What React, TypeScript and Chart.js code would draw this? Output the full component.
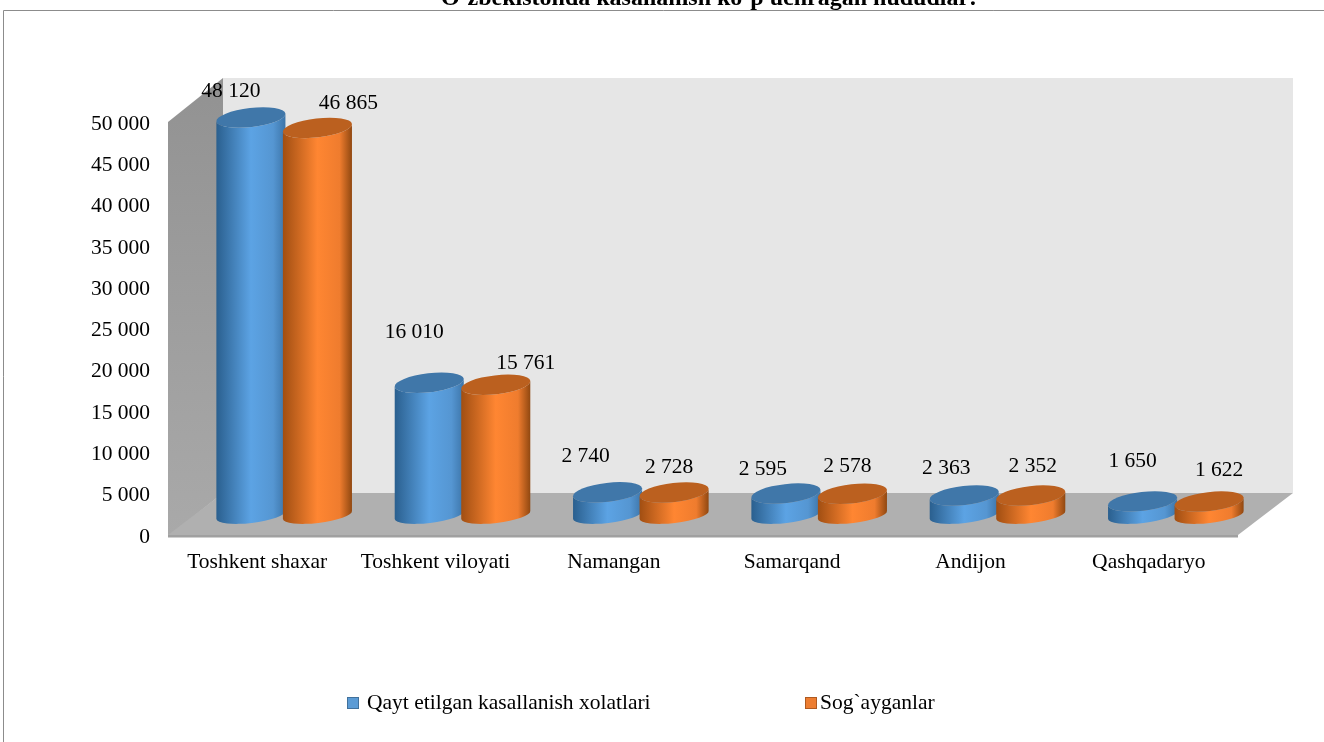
import React, { useEffect, useRef } from "react";
import { Chart, registerables } from "chart.js";

Chart.register(...registerables);

const categories = ["Toshkent shaxar", "Toshkent viloyati", "Namangan", "Samarqand", "Andijon", "Qashqadaryo"];
const relapsed = [48120, 16010, 2740, 2595, 2363, 1650];
const recovered = [46865, 15761, 2728, 2578, 2352, 1622];
const seriesNames = ["Qayt etilgan kasallanish xolatlari", "Sog`ayganlar"];
const chartTitle = "O`zbekistonda kasallanish ko`p uchragan hududlar:";

const FONT = '"Liberation Serif", "Times New Roman", serif';
const FONT_SIZE = 21.5;
const DEPTH_X = 55;
const DEPTH_Y = 42;
const TILT = -0.115;
const CAP_RY = 9.5;
const BASE_RY = 8;

const palettes = [
  { edgeL: "#2a5f8e", mid: "#5ca3e4", midR: "#5596d2", edgeR: "#3c74a8", cap: "#4077a9", legend: "#5b9bd5", legendEdge: "#41719c" },
  { edgeL: "#a04e12", mid: "#ff8632", midR: "#ef7c2e", edgeR: "#8f4710", cap: "#bb601f", legend: "#ed7d31", legendEdge: "#ae5a21" },
];

// Manually placed data labels in the original: nudges from each bar's top, per series.
const labelNudges = [
  [[-20, -25], [-15, -49], [-22, -35], [-23, -23], [-18, -26], [-10, -39]],
  [[31, -24], [30, -20], [-5, -24], [-5, -26], [2, -28], [10, -30]],
];

const fmt = (v: number) => String(v).replace(/\B(?=(\d{3})+$)/g, " ");

const sceneryPlugin = {
  id: "scenery",
  beforeDatasetsDraw(chart: any) {
    const { ctx, chartArea: a } = chart;
    ctx.save();
    // Back wall
    ctx.fillStyle = "#e6e6e6";
    ctx.fillRect(a.left + DEPTH_X, a.top - DEPTH_Y - 2, a.right - a.left, a.bottom - a.top + 2);
    // Side wall
    const wall = ctx.createLinearGradient(0, a.top - DEPTH_Y, 0, a.bottom);
    wall.addColorStop(0, "#929292");
    wall.addColorStop(1, "#a9a9a9");
    ctx.fillStyle = wall;
    ctx.beginPath();
    ctx.moveTo(a.left, a.top);
    ctx.lineTo(a.left + DEPTH_X, a.top - DEPTH_Y - 2);
    ctx.lineTo(a.left + DEPTH_X, a.bottom - DEPTH_Y);
    ctx.lineTo(a.left, a.bottom + 2);
    ctx.closePath();
    ctx.fill();
    // Floor
    ctx.fillStyle = "#b0b0b0";
    ctx.beginPath();
    ctx.moveTo(a.left, a.bottom);
    ctx.lineTo(a.left + DEPTH_X, a.bottom - DEPTH_Y);
    ctx.lineTo(a.right + DEPTH_X, a.bottom - DEPTH_Y);
    ctx.lineTo(a.right, a.bottom);
    ctx.closePath();
    ctx.fill();
    // Front edge of the floor
    ctx.fillStyle = "#a0a0a0";
    ctx.fillRect(a.left, a.bottom, a.right - a.left, 2.5);
    ctx.restore();
  },
  afterDatasetsDraw(chart: any) {
    const { ctx } = chart;
    ctx.save();
    const offX = DEPTH_X / 2 - 0.5;
    const offY = -DEPTH_Y / 2 + 1;
    // Cylinders, group by group
    categories.forEach((_, i) => {
      chart.data.datasets.forEach((_ds: any, d: number) => {
        const bar = chart.getDatasetMeta(d).data[i];
        const p = palettes[d];
        const cx = bar.x + offX;
        const top = bar.y + offY;
        const base = bar.base + offY;
        const rx = bar.width / 2 + 1.5;
        const g = ctx.createLinearGradient(cx - rx, 0, cx + rx, 0);
        g.addColorStop(0, p.edgeL);
        g.addColorStop(0.5, p.mid);
        g.addColorStop(0.82, p.midR);
        g.addColorStop(1, p.edgeR);
        ctx.fillStyle = g;
        ctx.beginPath();
        ctx.ellipse(cx, top, rx, CAP_RY, TILT, Math.PI, 0, true);
        ctx.ellipse(cx, base, rx, BASE_RY, TILT, 0, Math.PI, false);
        ctx.closePath();
        ctx.fill();
        ctx.fillStyle = p.cap;
        ctx.beginPath();
        ctx.ellipse(cx, top, rx, CAP_RY, TILT, 0, Math.PI * 2);
        ctx.fill();
      });
    });
    // Data labels
    ctx.fillStyle = "#000";
    ctx.font = `${FONT_SIZE}px ${FONT}`;
    ctx.textAlign = "center";
    ctx.textBaseline = "middle";
    chart.data.datasets.forEach((ds: any, d: number) => {
      chart.getDatasetMeta(d).data.forEach((bar: any, i: number) => {
        const [nx, ny] = labelNudges[d][i];
        ctx.fillText(fmt(ds.data[i]), bar.x + offX + nx, bar.y - DEPTH_Y / 2 + ny);
      });
    });
    // Title, clipped by the top of the page as in the original
    ctx.textBaseline = "alphabetic";
    ctx.font = `bold 24px ${FONT}`;
    ctx.fillText(chartTitle, 709, 5);
    // Outer frame
    ctx.strokeStyle = "#8c8c8c";
    ctx.lineWidth = 1;
    ctx.beginPath();
    ctx.moveTo(3.5, 742);
    ctx.lineTo(3.5, 10.5);
    ctx.lineTo(1324, 10.5);
    ctx.stroke();
    // Legend
    ctx.font = `${FONT_SIZE}px ${FONT}`;
    ctx.textAlign = "left";
    const legendX = [347, 805];
    const legendTextX = [367, 820];
    seriesNames.forEach((name, d) => {
      const p = palettes[d];
      ctx.fillStyle = p.legend;
      ctx.strokeStyle = p.legendEdge;
      ctx.fillRect(legendX[d], 697, 12, 12);
      ctx.strokeRect(legendX[d] + 0.5, 697.5, 11, 11);
      ctx.fillStyle = "#000";
      ctx.fillText(name, legendTextX[d], 709);
    });
    ctx.restore();
  },
};

export default function App() {
  const ref = useRef<HTMLCanvasElement>(null);
  useEffect(() => {
    const chart = new Chart(ref.current as any, {
      type: "bar",
      data: {
        labels: categories,
        datasets: [
          { label: seriesNames[0], data: relapsed, backgroundColor: "transparent" },
          { label: seriesNames[1], data: recovered, backgroundColor: "transparent" },
        ],
      },
      options: {
        responsive: false,
        animation: false,
        layout: { padding: { left: 0, right: 86, top: 122, bottom: 157 } },
        datasets: { bar: { categoryPercentage: 0.746, barPercentage: 1 } },
        plugins: { legend: { display: false }, title: { display: false }, tooltip: { enabled: false } },
        scales: {
          x: {
            grid: { display: false },
            border: { display: false },
            afterFit: (s: any) => { s.height = 50; },
            ticks: { color: "#000", font: { family: FONT, size: FONT_SIZE }, padding: 6, maxRotation: 0, autoSkip: false },
          },
          y: {
            min: 0,
            max: 50000,
            grid: { display: false },
            border: { display: false },
            afterFit: (s: any) => { s.width = 168; },
            ticks: {
              stepSize: 5000,
              color: "#000",
              font: { family: FONT, size: FONT_SIZE },
              padding: 10,
              labelOffset: 2,
              callback: (v: any) => fmt(Number(v)),
            },
          },
        },
      } as any,
      plugins: [sceneryPlugin],
    });
    return () => chart.destroy();
  }, []);
  return (
    <canvas
      ref={ref}
      width={1324}
      height={742}
      style={{ position: "absolute", left: 0, top: 0, width: 1324, height: 742, display: "block" }}
    />
  );
}
